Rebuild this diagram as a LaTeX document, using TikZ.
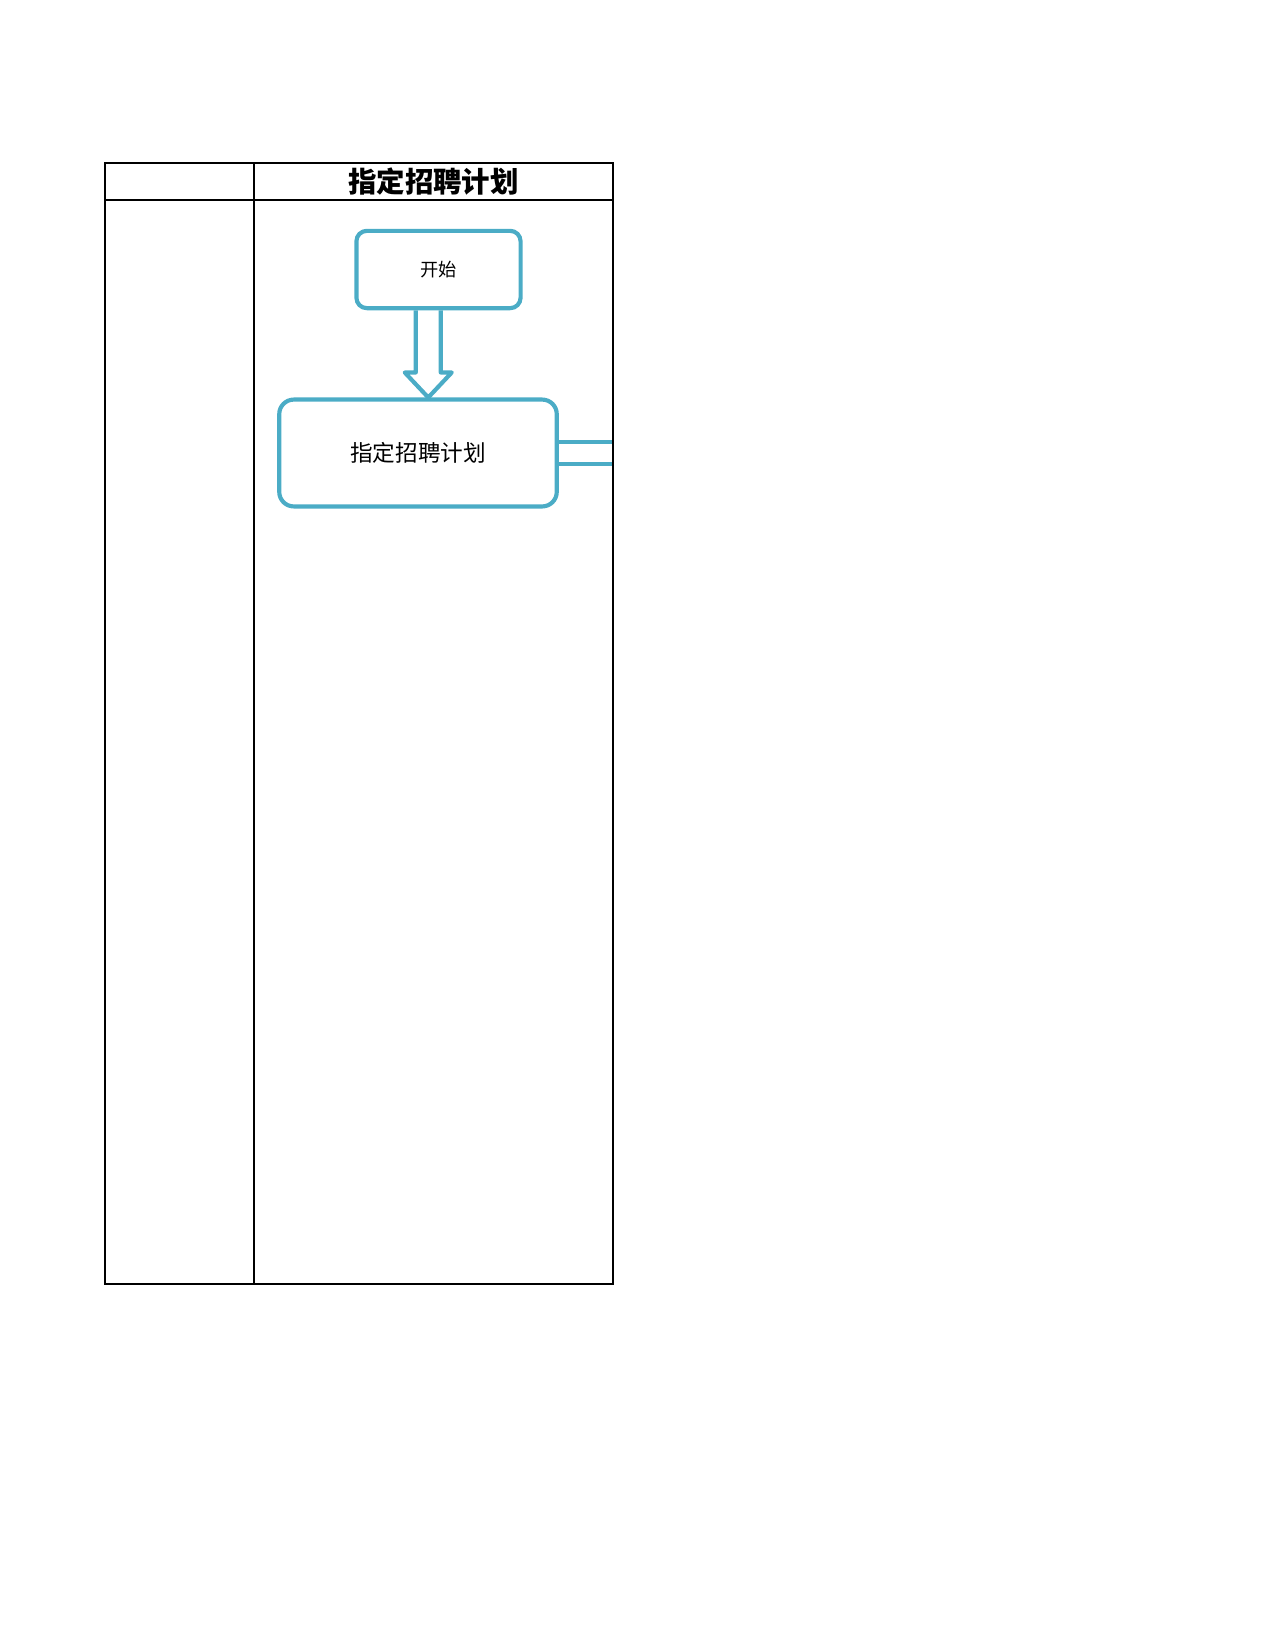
\documentclass[tikz,border=0pt]{standalone}
\usepackage{fontspec}
\setmainfont{Noto Sans CJK SC}
\usepackage{xcolor}
\usetikzlibrary{calc}
\definecolor{flowblue}{HTML}{4BACC6}

\begin{document}
\begin{tikzpicture}[x=0.016933cm, y=-0.016933cm,
  flow/.style={draw=flowblue, line width=2pt, line join=round},
  startbox/.style={flow, rounded corners=5pt, minimum width=2.78cm, minimum height=1.31cm, font=\fontsize{8.8}{10}\selectfont, inner sep=0pt},
  taskbox/.style={flow, rounded corners=7pt, minimum width=4.70cm, minimum height=1.81cm, font=\fontsize{10.9}{13}\selectfont, inner sep=0pt}]
\useasboundingbox (0,0) rectangle (1275,1650);
%% init-table
\coordinate (tl) at (104.7,163);
\coordinate (br) at (613,1284);
\draw [black, line width=1pt] (tl) rectangle (br);
\draw [black, line width=0.9pt] (104.7,200) -- (613,200);
\draw [black, line width=0.9pt] (254,163) -- (254,1284);
\node (title) at (433.5,181.5) {\fontsize{13.7}{16}\selectfont\bfseries 指定招聘计划};
%% init-table
\node [startbox] (start) at (438.5,269.5) {开始};
\node [taskbox] (plan) at (418,453) {指定招聘计划};
%draw block arrow
\coordinate (mid) at ($(start.south)!0.5!(plan.north)$);
\coordinate (top) at (start.south -| mid);
\coordinate (tip) at (plan.north -| mid);
\draw [flow] ($(top)+(-12.5,0)$) -- ($(tip)+(-12.5,-25)$) -- ($(tip)+(-23.5,-25)$) -- (tip)
  -- ($(tip)+(23.5,-25)$) -- ($(tip)+(12.5,-25)$) -- ($(top)+(12.5,0)$);
%draw exit
\draw [flow] ([yshift=0.19cm]plan.east) -- ([yshift=0.19cm]plan.east -| br);
\draw [flow] ([yshift=-0.19cm]plan.east) -- ([yshift=-0.19cm]plan.east -| br);
\draw [black, line width=1.2pt] (br |- tl) -- (br);
\end{tikzpicture}
\end{document}
